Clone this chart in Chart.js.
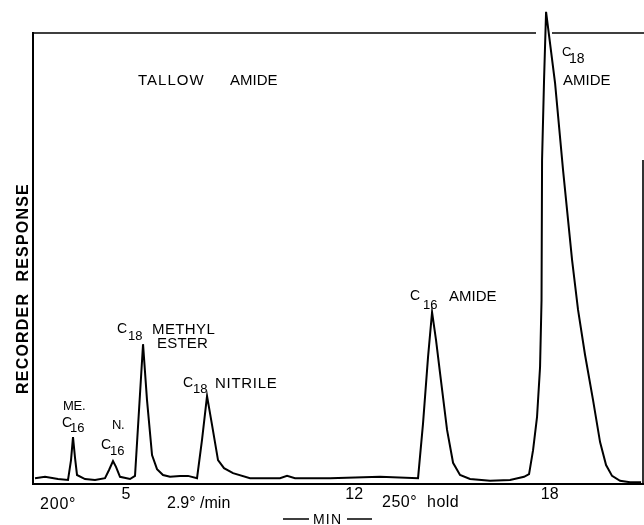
<!DOCTYPE html>
<html>
<head>
<meta charset="utf-8">
<style>
  html, body { margin: 0; padding: 0; background: #fff; overflow: hidden; }
  canvas { display: block; }
</style>
</head>
<body>
<canvas id="gc" width="644" height="525"></canvas>
<script src="https://cdn.jsdelivr.net/npm/chart.js@4.4.1/dist/chart.umd.min.js"></script>
<script>
// retention time (min)
const timeMin = [
  2.212, 2.518, 2.917, 3.224, 3.316, 3.377, 3.439, 3.500, 3.745, 4.052,
  4.359, 4.482, 4.604, 4.696, 4.819, 5.126, 5.279, 5.402, 5.525, 5.647,
  5.801, 5.954, 6.138, 6.353, 6.660, 6.905, 7.181, 7.334, 7.488, 7.641,
  7.825, 8.009, 8.285, 8.807, 9.420, 9.727, 9.942, 10.187, 11.261, 12.794,
  13.960, 14.114, 14.267, 14.390, 14.512, 14.635, 14.850, 15.034, 15.248, 15.555,
  16.169, 16.782, 17.212, 17.365, 17.488, 17.610, 17.702, 17.748, 17.764, 17.825,
  17.887, 18.163, 18.408, 18.684, 18.868, 19.083, 19.328, 19.543, 19.727, 19.911,
  20.156, 20.463, 20.801
];

// recorder response, % of full scale (top of the frame = 100)
const response = [
  1.3, 1.6, 1.1, 0.9, 5.3, 10.4, 5.8, 2.0, 1.1, 0.9,
  1.3, 3.1, 5.1, 3.8, 1.6, 1.1, 1.8, 16.4, 31.0, 18.6,
  6.4, 3.3, 2.0, 1.6, 1.8, 1.8, 1.3, 9.8, 19.5, 13.1,
  5.3, 3.5, 2.4, 1.3, 1.3, 1.3, 1.8, 1.3, 1.3, 1.6,
  1.3, 13.5, 28.2, 38.1, 31.9, 24.6, 12.0, 4.7, 2.0, 1.1,
  0.7, 0.9, 1.6, 2.2, 7.5, 14.9, 25.9, 40.8, 71.8, 89.6,
  104.7, 88.9, 69.6, 49.7, 38.6, 28.6, 18.6, 9.3, 4.2, 1.8,
  0.7, 0.4, 0.4
];

const tickMinutes = [5, 12, 18];

const FONT = '"Liberation Sans", Arial, sans-serif';

// [text, x, baseline y, size, letter spacing, bold]
const captions = [
  ["TALLOW", 138, 85, 15, 1],
  ["AMIDE", 230, 85, 15, 0],
  ["ME.", 63, 410, 13, -0.3],
  ["C", 62, 427, 14, 0], ["16", 70, 432, 13, 0],
  ["N.", 112, 429, 13, -0.5],
  ["C", 101, 449, 14, 0], ["16", 110, 455, 13, 0],
  ["C", 117, 333, 14, 0], ["18", 128, 340, 13, 0],
  ["METHYL", 152, 334, 15, 0.4],
  ["ESTER", 157, 348, 15, 0.2],
  ["C", 183, 387, 14, 0], ["18", 193, 393, 13, 0],
  ["NITRILE", 215, 388, 15, 0.7],
  ["C", 410, 300, 14, 0], ["16", 423, 309, 13, 0],
  ["AMIDE", 449, 301, 15, 0],
  ["C", 562, 56, 13, 0], ["18", 569, 63, 14, 0],
  ["AMIDE", 563, 85, 15, 0],
  ["200°", 40, 509, 16, 0.8],
  ["2.9° /min", 167, 508, 16, 0],
  ["250°  hold", 382, 507, 16, 0.5],
  ["MIN", 313, 524, 14, 1.2]
];

const drawText = (ctx, str, x, y, size, spacing, bold) => {
  ctx.save();
  ctx.font = `${bold ? "bold " : ""}${size}px ${FONT}`;
  ctx.letterSpacing = spacing + "px";
  ctx.fillStyle = "#000";
  ctx.textAlign = "left";
  ctx.textBaseline = "alphabetic";
  ctx.fillText(str, x, y);
  ctx.restore();
};

// frame pieces and hand lettering that sit on the recorder paper
const paperPlugin = {
  id: "paper",
  afterDraw(chart) {
    const { ctx, chartArea } = chart;
    ctx.save();
    ctx.strokeStyle = "#000";
    ctx.lineWidth = 1.6;
    ctx.beginPath();
    // top edge, broken where the big peak runs through it
    ctx.moveTo(chartArea.left, chartArea.top);
    ctx.lineTo(536, chartArea.top);
    ctx.moveTo(552, chartArea.top);
    ctx.lineTo(644, chartArea.top);
    // right edge only on the lower part
    ctx.moveTo(chartArea.right, 160);
    ctx.lineTo(chartArea.right, chartArea.bottom);
    // dashes either side of MIN
    ctx.moveTo(283, 519);
    ctx.lineTo(309, 519);
    ctx.moveTo(347, 519);
    ctx.lineTo(372, 519);
    ctx.stroke();
    ctx.restore();

    captions.forEach(c => drawText(ctx, c[0], c[1], c[2], c[3], c[4], c[5]));

    // rotated y-axis caption
    ctx.save();
    ctx.translate(28, 394);
    ctx.rotate(-Math.PI / 2);
    drawText(ctx, "RECORDER  RESPONSE", 0, 0, 16, 1.2, true);
    ctx.restore();
  }
};

const ctx = document.getElementById("gc").getContext("2d");

new Chart(ctx, {
  type: "line",
  data: {
    datasets: [
      {
        data: timeMin.map((t, i) => ({ x: t, y: response[i] })),
        borderColor: "#000",
        borderWidth: 2,
        pointRadius: 0,
        tension: 0,
        fill: false,
        clip: false
      }
    ]
  },
  options: {
    responsive: false,
    animation: false,
    layout: { padding: { left: 33, right: 1, top: 33, bottom: 0 } },
    plugins: {
      legend: { display: false },
      tooltip: { enabled: false }
    },
    scales: {
      x: {
        type: "linear",
        min: 2.15,
        max: 20.86,
        grid: { display: false, drawTicks: false },
        border: { color: "#000", width: 2 },
        afterBuildTicks: axis => {
          axis.ticks = tickMinutes.map(v => ({ value: v }));
        },
        afterFit: axis => {
          axis.height = 41;
        },
        ticks: {
          color: "#000",
          padding: 1,
          maxRotation: 0,
          font: { family: FONT, size: 16 },
          callback: v => String(v)
        }
      },
      y: {
        min: 0,
        max: 100,
        grid: { display: false, drawTicks: false },
        border: { color: "#000", width: 2 },
        ticks: { display: false },
        afterFit: axis => {
          axis.width = 0;
        }
      }
    }
  },
  plugins: [paperPlugin]
});
</script>
</body>
</html>
